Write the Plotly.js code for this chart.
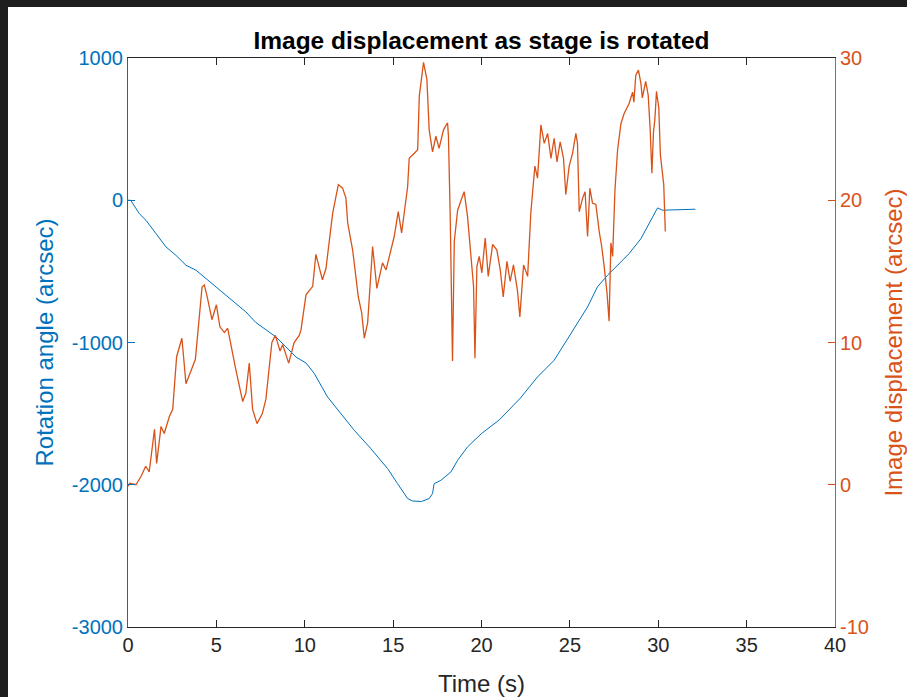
<!DOCTYPE html>
<html>
<head>
<meta charset="utf-8">
<script src="https://cdn.plot.ly/plotly-3.0.1.min.js"></script>
<style>
  html, body { margin: 0; padding: 0; background: #1e1e1e; width: 907px; height: 697px; overflow: hidden; }
  #chart { position: absolute; left: 8px; top: 7px; width: 899px; height: 690px; background: #ffffff; }
</style>
</head>
<body>
<div id="chart"></div>
<script>
// Rotation angle (arcsec) vs time (s)
const angleTime = [0.0, 0.15, 0.64, 1.02, 1.58, 2.15, 2.71, 3.28, 3.85, 4.41, 4.98, 5.54, 6.11, 6.67, 7.24, 7.81, 8.37, 8.94, 9.5, 10.07, 10.54, 11.29, 12.05, 12.8, 13.74, 14.69, 15.25, 15.82, 16.1, 16.6, 17.04, 17.23, 17.32, 17.7, 18.27, 18.65, 19.21, 20.0, 21.0, 22.2, 23.17, 24.11, 25.06, 26.0, 26.56, 27.13, 27.7, 28.35, 29.02, 29.58, 29.96, 30.24, 31.0, 32.1];
const angleValues = [0, 0, -94, -141, -234, -328, -387, -457, -492, -550, -609, -668, -726, -785, -860, -914, -961, -1031, -1102, -1144, -1218, -1383, -1500, -1617, -1746, -1887, -1992, -2097, -2114, -2118, -2097, -2062, -1992, -1969, -1910, -1828, -1734, -1640, -1545, -1391, -1242, -1125, -937, -750, -609, -527, -457, -375, -270, -147, -54, -70, -68, -63];

// Image displacement (arcsec) vs time (s)
const dispTime = [0.0, 0.1, 0.45, 0.74, 1.0, 1.2, 1.5, 1.62, 1.87, 2.05, 2.34, 2.53, 2.75, 3.05, 3.28, 3.56, 3.81, 4.19, 4.32, 4.5, 4.75, 5.0, 5.2, 5.45, 5.64, 6.1, 6.49, 6.67, 6.86, 7.05, 7.3, 7.6, 7.8, 8.14, 8.34, 8.6, 8.75, 9.09, 9.4, 9.69, 9.79, 10.07, 10.16, 10.45, 10.63, 11.0, 11.2, 11.58, 11.9, 12.14, 12.33, 12.43, 12.71, 13.03, 13.22, 13.37, 13.56, 13.84, 14.08, 14.4, 14.6, 14.88, 15.06, 15.29, 15.48, 15.82, 15.91, 16.2, 16.39, 16.48, 16.72, 16.91, 17.04, 17.23, 17.42, 17.6, 17.85, 18.08, 18.13, 18.23, 18.36, 18.46, 18.65, 18.93, 19.02, 19.21, 19.3, 19.4, 19.55, 19.63, 19.74, 19.87, 20.02, 20.21, 20.38, 20.63, 20.87, 21.06, 21.23, 21.44, 21.62, 21.81, 22.04, 22.17, 22.38, 22.61, 22.79, 23.02, 23.17, 23.36, 23.55, 23.74, 23.93, 24.11, 24.27, 24.45, 24.64, 24.77, 24.96, 25.15, 25.34, 25.43, 25.53, 25.72, 25.86, 26.0, 26.13, 26.28, 26.47, 26.66, 26.8, 26.94, 27.1, 27.22, 27.32, 27.42, 27.55, 27.7, 27.89, 28.07, 28.26, 28.35, 28.55, 28.62, 28.73, 28.88, 29.02, 29.1, 29.29, 29.43, 29.54, 29.64, 29.73, 29.81, 29.9, 30.03, 30.12, 30.22, 30.31, 30.4];
const dispValues = [-0.1, 0.1, 0.0, 0.6, 1.3, 0.9, 3.9, 1.5, 4.1, 3.6, 4.8, 5.3, 9.0, 10.3, 7.1, 8.0, 8.8, 13.9, 14.05, 13.1, 11.6, 12.65, 11.1, 10.7, 11.0, 8.1, 5.85, 6.45, 8.55, 5.3, 4.3, 5.0, 6.0, 10.0, 10.5, 9.4, 9.85, 8.55, 10.0, 10.5, 10.9, 13.35, 13.5, 13.95, 16.2, 14.4, 15.2, 19.1, 21.1, 20.85, 20.15, 18.4, 16.5, 13.2, 12.1, 10.3, 11.4, 16.75, 13.8, 15.6, 15.1, 16.5, 17.45, 19.2, 17.7, 20.95, 22.95, 23.3, 23.55, 27.3, 29.7, 28.5, 24.95, 23.4, 24.5, 23.65, 24.95, 25.45, 24.5, 18.85, 8.7, 17.1, 19.3, 20.3, 20.6, 18.85, 17.45, 16.5, 13.95, 8.9, 15.35, 16.05, 14.9, 17.35, 14.65, 16.9, 16.5, 15.1, 13.2, 15.7, 14.3, 15.45, 13.6, 11.8, 15.45, 14.65, 19.1, 22.4, 21.55, 25.3, 24.0, 24.7, 22.95, 24.35, 22.7, 24.1, 22.95, 20.4, 22.4, 23.3, 24.7, 24.0, 19.2, 20.15, 20.6, 17.45, 20.85, 19.8, 19.7, 17.8, 16.75, 15.35, 13.5, 11.5, 17.0, 16.05, 20.7, 23.55, 25.4, 26.1, 26.6, 26.8, 27.6, 26.9, 28.8, 29.15, 28.2, 27.2, 28.35, 27.4, 25.05, 21.9, 24.8, 25.7, 27.65, 26.5, 23.2, 22.25, 21.1, 17.8];

const xTicks = [0, 5, 10, 15, 20, 25, 30, 35, 40];
const leftTicks = [-3000, -2000, -1000, 0, 1000];
const rightTicks = [-10, 0, 10, 20, 30];

const BLUE = '#0072BD';
const ORANGE = '#D95319';
const DARK = '#262626';
const FONT = '"Liberation Sans", Arial, Helvetica, sans-serif';

const traces = [
  { x: angleTime, y: angleValues, type: 'scatter', mode: 'lines', line: { color: BLUE, width: 1 }, yaxis: 'y', showlegend: false, hoverinfo: 'skip' },
  { x: dispTime, y: dispValues, type: 'scatter', mode: 'lines', line: { color: ORANGE, width: 1.3 }, yaxis: 'y2', showlegend: false, hoverinfo: 'skip' }
];

const layout = {
  width: 899, height: 690,
  paper_bgcolor: '#ffffff', plot_bgcolor: '#ffffff',
  margin: { l: 120, r: 72, t: 51, b: 70, pad: 0 },
  font: { family: FONT, color: DARK, size: 20 },
  title: { text: '<b>Image displacement as stage is rotated</b>', font: { family: FONT, size: 24.5, color: '#000000' }, x: 0.5, xref: 'paper', y: 0.952, yref: 'container', yanchor: 'middle' },
  xaxis: {
    range: [0, 40], tickvals: xTicks, ticktext: xTicks.map(String),
    showline: true, linecolor: DARK, linewidth: 1, mirror: 'ticks',
    ticks: 'inside', ticklen: 7, tickcolor: DARK, tickwidth: 1,
    showgrid: false, zeroline: false,
    tickfont: { family: FONT, size: 20, color: DARK },
    title: { text: 'Time (s)', font: { family: FONT, size: 24, color: DARK }, standoff: 20 }
  },
  yaxis: {
    range: [-3000, 1000], tickvals: leftTicks, ticktext: leftTicks.map(String),
    showline: true, linecolor: BLUE, linewidth: 1,
    ticks: 'inside', ticklen: 7, tickcolor: BLUE,
    showgrid: false, zeroline: false,
    tickfont: { family: FONT, size: 20, color: BLUE },
    title: { text: 'Rotation angle (arcsec)', font: { family: FONT, size: 24, color: BLUE }, standoff: 11 }
  },
  yaxis2: {
    range: [-10, 30], tickvals: rightTicks, ticktext: rightTicks.map(String),
    overlaying: 'y', side: 'right',
    showline: true, linecolor: ORANGE, linewidth: 1,
    ticks: 'inside', ticklen: 7, tickcolor: ORANGE,
    showgrid: false, zeroline: false,
    tickfont: { family: FONT, size: 20, color: ORANGE },
    title: { text: 'Image displacement (arcsec)', font: { family: FONT, size: 24, color: ORANGE }, standoff: 20 }
  }
};

Plotly.newPlot('chart', traces, layout, { displayModeBar: false, staticPlot: true });
</script>
</body>
</html>
